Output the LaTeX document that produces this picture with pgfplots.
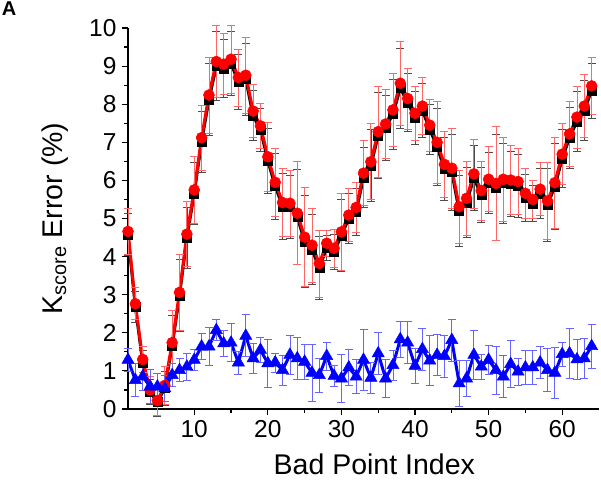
\documentclass[border=0pt]{standalone}
\usepackage{fontspec}
\setmainfont{Liberation Sans}
\usepackage{pgfplots}
\usepackage{pgfplotstable}
\pgfplotsset{compat=1.18}

\pgfplotstableread{
x y e
1 4.66 0.60
2 2.76 0.42
3 1.30 0.35
4 0.50 0.35
5 0.22 0.40
6 0.62 0.50
7 1.74 0.85
8 3.06 1.00
9 4.59 0.85
10 5.75 0.87
11 7.12 0.85
12 8.24 1.00
13 9.12 0.95
14 9.05 0.80
15 9.18 0.90
16 8.70 0.75
17 8.76 1.00
18 7.82 0.70
19 7.43 0.60
20 6.62 0.90
21 5.95 0.90
22 5.42 0.90
23 5.40 0.87
24 5.14 1.35
25 4.51 1.30
26 4.30 0.97
27 3.82 0.88
28 4.35 0.35
29 4.22 0.50
30 4.65 1.00
31 5.09 0.70
32 5.29 0.65
33 6.19 0.85
34 6.49 1.00
35 7.28 1.20
36 7.48 0.90
37 7.85 0.97
38 8.55 1.10
39 8.15 0.80
40 7.76 0.72
41 7.95 0.75
42 7.45 0.68
43 7.00 1.07
44 6.42 0.87
45 6.32 1.05
46 5.31 0.96
47 5.53 0.98
48 6.17 0.90
49 5.73 0.77
50 6.03 0.85
51 5.92 1.50
52 6.03 1.10
53 6.01 0.90
54 5.97 0.87
55 5.66 0.65
56 5.50 0.50
57 5.77 0.70
58 5.46 1.00
59 5.94 1.20
60 6.69 0.80
61 7.22 0.85
62 7.66 0.82
63 7.95 0.82
64 8.48 0.75
}\redtab

\pgfplotstableread{
x y e
1 4.58 0.55
2 2.68 0.40
3 1.22 0.33
4 0.45 0.33
5 0.18 0.36
6 0.55 0.45
7 1.66 0.80
8 2.98 0.95
9 4.50 0.80
10 5.66 0.82
11 7.02 0.80
12 8.12 0.95
13 9.00 0.90
14 8.94 0.75
15 9.07 0.85
16 8.58 0.72
17 8.66 0.95
18 7.70 0.66
19 7.33 0.56
20 6.52 0.85
21 5.85 0.86
22 5.32 0.86
23 5.30 0.82
24 5.04 1.25
25 4.40 1.22
26 4.18 0.92
27 3.70 0.83
28 4.24 0.33
29 4.12 0.46
30 4.56 0.95
31 5.00 0.66
32 5.18 0.62
33 6.08 0.80
34 6.39 0.95
35 7.18 1.12
36 7.38 0.86
37 7.74 0.92
38 8.42 1.05
39 8.05 0.76
40 7.64 0.70
41 7.84 0.72
42 7.34 0.65
43 6.88 1.00
44 6.30 0.82
45 6.22 1.00
46 5.20 0.92
47 5.42 0.92
48 6.06 0.85
49 5.62 0.73
50 5.93 0.80
51 5.82 1.40
52 5.93 1.05
53 5.91 0.85
54 5.86 0.82
55 5.55 0.62
56 5.40 0.48
57 5.66 0.66
58 5.36 0.95
59 5.84 1.12
60 6.58 0.76
61 7.12 0.80
62 7.55 0.78
63 7.84 0.78
64 8.36 0.72
}\blacktab

\pgfplotstableread{
x y e
1 1.29 0.30
2 0.76 0.43
3 0.85 0.35
4 0.59 0.45
5 0.59 0.35
6 0.54 0.35
7 0.89 0.30
8 1.02 0.30
9 1.11 0.35
10 1.29 0.28
11 1.64 0.35
12 1.64 0.50
13 2.07 0.27
14 1.72 0.35
15 1.74 0.50
16 1.22 0.30
17 1.92 0.55
18 1.33 0.40
19 1.55 0.33
20 1.20 0.63
21 1.22 0.25
22 1.02 0.40
23 1.42 0.50
24 1.33 0.55
25 1.24 0.45
26 0.95 0.75
27 0.89 0.45
28 1.39 0.37
29 0.87 0.27
30 0.80 0.63
31 1.09 0.48
32 0.85 0.45
33 1.29 0.80
34 0.82 0.40
35 1.46 0.55
36 0.80 0.50
37 1.15 0.40
38 1.83 0.48
39 1.74 0.55
40 1.13 0.45
41 1.57 0.55
42 1.27 0.66
43 1.42 0.53
44 1.39 0.55
45 1.81 0.55
46 0.67 0.60
47 0.80 0.48
48 1.42 0.65
49 1.11 0.33
50 1.29 0.37
51 1.02 0.63
52 0.85 0.55
53 1.18 0.62
54 0.98 0.35
55 1.09 0.45
56 1.09 0.45
57 1.22 0.42
58 1.02 0.57
59 0.95 0.66
60 1.44 0.32
61 1.46 0.65
62 1.30 0.52
63 1.33 0.52
64 1.65 0.58
}\bluetab

\begin{document}
\begin{tikzpicture}
\useasboundingbox (-128pt,-71pt) rectangle (473pt,409pt);
\begin{axis}[
  at={(0pt,0pt)}, anchor=south west,
  scale only axis, width=471pt, height=381pt,
  xmin=1, xmax=65, ymin=0, ymax=10,
  axis x line*=bottom, axis y line*=left,
  xtick pos=left, ytick pos=left,
  axis line style={line width=1.3pt},
  xtick={10,20,...,60}, ytick={0,1,...,10},
  minor x tick num=1, minor y tick num=1,
  tick align=outside,
  major tick length=6pt, minor tick length=3.5pt,
  every tick/.style={black, line width=1.1pt},
  /pgf/number format/assume math mode=true,
  tick label style={font=\fontsize{24.5}{28}\selectfont},
  xticklabel style={yshift=-2pt},
  yticklabel style={xshift=-2pt},
  xlabel={Bad Point Index},
  ylabel={K\textsubscript{score} Error (\%)},
  label style={font=\fontsize{28.5}{34}\selectfont},
  xlabel style={at={(axis description cs:0.523,-0.145)}, anchor=center},
  ylabel style={at={(axis description cs:-0.155,0.5)}, anchor=center, rotate=0},
  clip=false,
]
\addplot[black, line width=3pt, mark=square*, mark size=4.5pt,
  mark options={solid, line width=0.5pt},
  error bars/.cd, y dir=both, y explicit,
  error bar style={black!70, line width=0.7pt},
  error mark options={rotate=90, black!70, mark size=4pt, line width=0.7pt}]
  table[x=x, y=y, y error=e] {\blacktab};
\addplot[red, line width=3pt, mark=*, mark size=5.5pt,
  mark options={solid, line width=0.5pt},
  error bars/.cd, y dir=both, y explicit,
  error bar style={red!60, line width=0.8pt},
  error mark options={rotate=90, red!60, mark size=4pt, line width=0.8pt}]
  table[x=x, y=y, y error=e] {\redtab};
\addplot[blue, line width=3pt, mark=triangle*, mark size=7pt,
  mark options={solid, line width=0.5pt},
  error bars/.cd, y dir=both, y explicit,
  error bar style={blue!60, line width=0.8pt},
  error mark options={rotate=90, blue!60, mark size=4pt, line width=0.8pt}]
  table[x=x, y=y, y error=e] {\bluetab};
\end{axis}
\node[font=\bfseries\fontsize{20}{22}\selectfont] at (-119pt,400pt) {A};
\end{tikzpicture}
\end{document}
